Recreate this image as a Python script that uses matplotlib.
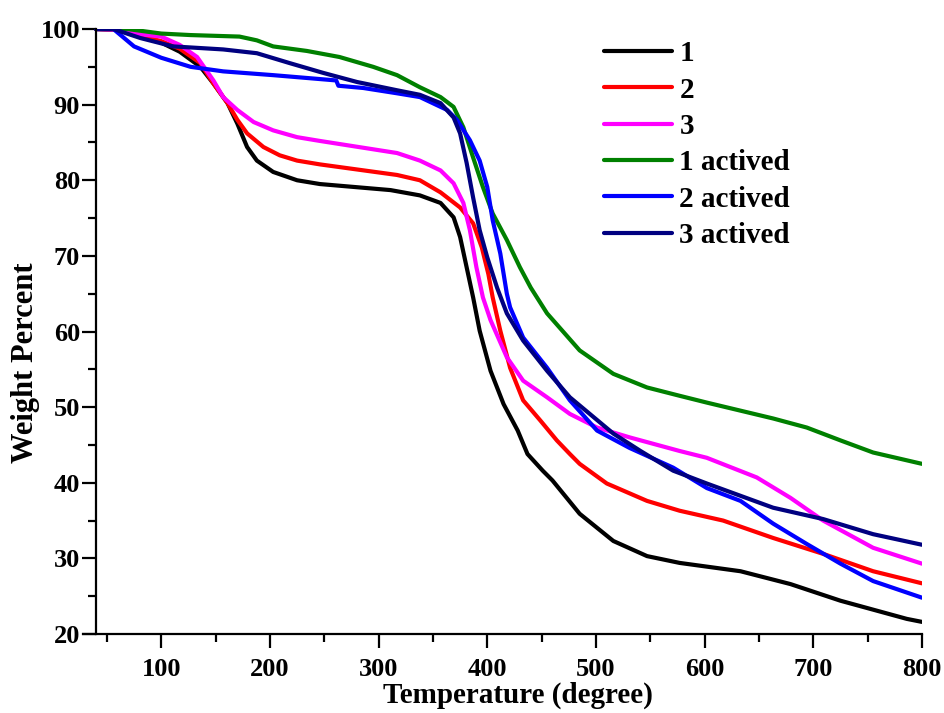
import matplotlib
matplotlib.use("Agg")
import matplotlib.pyplot as plt
from matplotlib.ticker import MultipleLocator

plt.rcParams['font.family'] = ['Liberation Serif', 'DejaVu Serif']
plt.rcParams['font.weight'] = 'bold'

# TGA curves: temperature (degree) vs weight percent
t1 = [40, 60, 81, 100, 117, 136, 148, 161, 170, 179, 188, 203, 225, 246, 311, 338, 357, 369,
      375, 381, 387, 393, 403, 415, 428, 437, 451, 460, 485, 516, 547, 577, 633, 679, 725, 786, 800]
w1 = [100, 99.9, 99.2, 98.2, 97.0, 95, 92.8, 90.2, 87.5, 84.4, 82.6, 81.1, 80, 79.5, 78.7, 78,
      77, 75.1, 72.5, 68.5, 64.5, 60.1, 54.8, 50.4, 46.9, 43.8, 41.6, 40.3, 35.9, 32.3, 30.3,
      29.4, 28.3, 26.6, 24.4, 22, 21.6]

t2 = [40, 60, 81, 100, 117, 136, 148, 161, 170, 179, 194, 209, 225, 246, 317, 338, 357, 375,
      387, 395, 401, 405, 412, 421, 433, 449, 464, 476, 485, 510, 547, 577, 617, 663, 709, 755, 800]
w2 = [100, 99.9, 99.1, 98.4, 97.4, 95.5, 92.8, 90.2, 88, 86.2, 84.4, 83.3, 82.6, 82.1, 80.7, 80,
      78.4, 76.4, 74.3, 71.1, 67.6, 64.5, 60.1, 55.2, 50.9, 48.2, 45.6, 43.8, 42.5, 39.9, 37.6,
      36.3, 35, 32.7, 30.6, 28.3, 26.7]

t3 = [40, 60, 81, 100, 117, 133, 148, 157, 170, 185, 203, 225, 246, 317, 338, 357, 369, 378,
      384, 390, 396, 403, 418, 433, 455, 476, 501, 531, 577, 602, 648, 679, 709, 755, 800]
w3 = [100, 99.9, 99.3, 99, 97.9, 96.3, 93.2, 91, 89.3, 87.7, 86.6, 85.7, 85.2, 83.6, 82.6, 81.3,
      79.6, 77, 73.4, 68.5, 64.5, 61.5, 56.6, 53.5, 51.3, 49.1, 47.3, 46, 44.2, 43.3, 40.7, 38,
      35, 31.4, 29.3]

t1a = [40, 69, 100, 127, 172, 188, 203, 234, 264, 295, 317, 338, 357, 369, 378, 387, 396, 405,
       418, 430, 440, 455, 485, 516, 547, 577, 602, 663, 694, 725, 755, 800]
w1a = [100, 100, 99.4, 99.2, 99, 98.5, 97.7, 97.1, 96.3, 95, 93.9, 92.3, 91, 89.7, 87, 83, 79.1,
       75.6, 72.1, 68.5, 65.8, 62.4, 57.5, 54.4, 52.6, 51.5, 50.6, 48.5, 47.3, 45.6, 44, 42.5]

t2a = [40, 56, 75, 100, 127, 157, 203, 261, 263, 286, 317, 338, 363, 372, 384, 393, 400, 405,
       412, 418, 421, 433, 455, 476, 501, 531, 571, 602, 633, 663, 694, 725, 755, 800]
w2a = [100, 100, 97.7, 96.2, 95, 94.4, 93.9, 93.2, 92.5, 92.2, 91.5, 91, 89.3, 88, 85.3, 82.6,
       79.1, 74.7, 70.3, 65, 63.2, 59.2, 55.2, 50.9, 46.9, 44.6, 42, 39.3, 37.6, 34.6, 31.9, 29.3,
       27, 24.8]

t3a = [40, 56, 81, 111, 157, 188, 218, 249, 280, 317, 338, 357, 369, 375, 381, 387, 393, 400,
       409, 418, 433, 455, 476, 516, 541, 571, 602, 663, 709, 755, 800]
w3a = [100, 100, 98.8, 97.7, 97.3, 96.8, 95.5, 94.2, 93, 91.9, 91.3, 90.2, 88.3, 86.2, 82.3,
       77.7, 73.4, 69.8, 65.8, 62.4, 58.8, 54.8, 51.3, 46.5, 44.2, 41.6, 39.9, 36.7, 35.2, 33.2, 31.8]

series = [
    (t1, w1, 'black', '1'),
    (t2, w2, '#ff0000', '2'),
    (t3, w3, '#ff00ff', '3'),
    (t1a, w1a, '#008000', '1 actived'),
    (t2a, w2a, '#0000ff', '2 actived'),
    (t3a, w3a, '#000080', '3 actived'),
]

fig = plt.figure(figsize=(9.44, 7.13), dpi=100)
ax = fig.add_axes([0.0879, 0.1108, 0.8888, 0.8485])

for t, w, c, lab in series:
    ax.plot(t, w, color=c, lw=3, label=lab, solid_capstyle='round', solid_joinstyle='round')

ax.set_xlim(28, 800)
ax.set_ylim(20, 100)
ax.spines['top'].set_visible(False)
ax.spines['right'].set_visible(False)
ax.spines['left'].set_position(('data', 40))
for s in ('left', 'bottom'):
    ax.spines[s].set_linewidth(1.6)

ax.set_xticks([100, 200, 300, 400, 500, 600, 700, 800])
ax.xaxis.set_minor_locator(MultipleLocator(50))
ax.yaxis.set_major_locator(MultipleLocator(10))
ax.yaxis.set_minor_locator(MultipleLocator(5))
ax.tick_params(which='major', direction='out', length=10, width=1.6, labelsize=19)
ax.tick_params(which='minor', direction='out', length=6, width=1.6)
ax.tick_params(axis='x', which='major', pad=7)
ax.tick_params(axis='y', which='major', pad=1.5)

ax.set_xlabel('Temperature (degree)', fontsize=21, fontweight='bold')
ax.set_ylabel('Weight Percent', fontsize=22, fontweight='bold')
ax.xaxis.set_label_coords(0.518, -0.078)
ax.yaxis.set_label_coords(-0.051, 0.448)

ax.legend(loc='upper left', bbox_to_anchor=(0.624, 0.964), bbox_transform=fig.transFigure,
          frameon=False, fontsize=21, handlelength=2.35, handletextpad=0.25,
          labelspacing=0.32, borderpad=0)

fig.savefig('out.png', dpi=100)
